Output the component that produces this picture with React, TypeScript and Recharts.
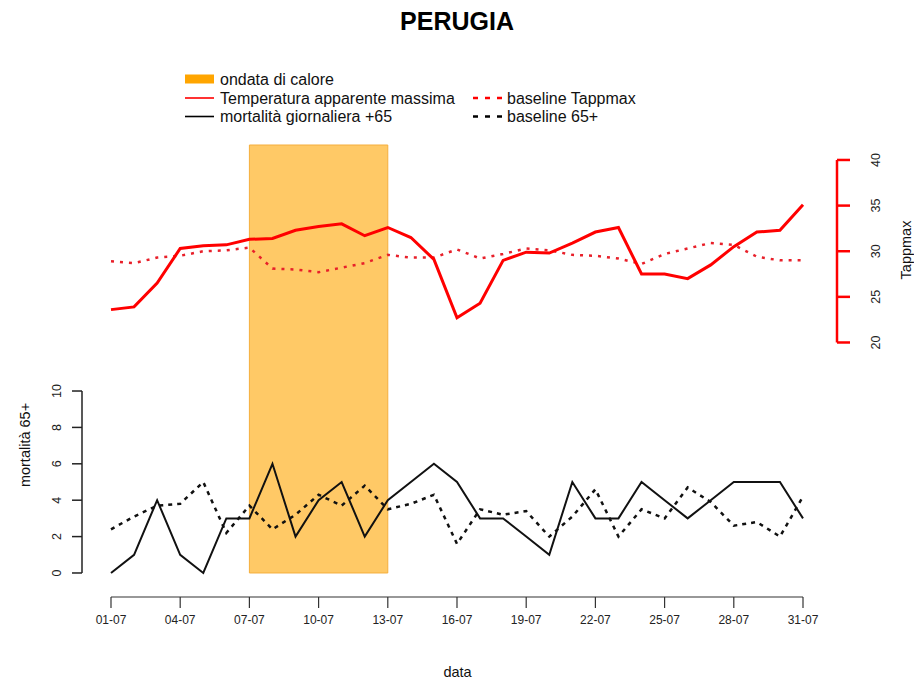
import React from 'react';
import { ComposedChart, Line, XAxis, YAxis, ReferenceArea, ReferenceLine } from 'recharts';

const dates = [
    '01-07', '02-07', '03-07', '04-07', '05-07', '06-07', '07-07', '08-07', '09-07', '10-07',
    '11-07', '12-07', '13-07', '14-07', '15-07', '16-07', '17-07', '18-07', '19-07', '20-07',
    '21-07', '22-07', '23-07', '24-07', '25-07', '26-07', '27-07', '28-07', '29-07', '30-07', '31-07',
];

const tappmax = [
    23.6, 23.9, 26.5, 30.3, 30.6, 30.7, 31.3, 31.4, 32.3, 32.7, 33.0, 31.7, 32.6, 31.5, 29.1, 22.7,
    24.3, 29.0, 29.9, 29.8, 30.9, 32.1, 32.6, 27.5, 27.5, 27.0, 28.5, 30.5, 32.1, 32.3, 35.1,
];

const baselineTapp = [
    28.9, 28.7, 29.3, 29.5, 30.0, 30.1, 30.4, 28.1, 28.0, 27.7, 28.2, 28.7, 29.6, 29.3, 29.3, 30.2,
    29.2, 29.7, 30.3, 30.1, 29.6, 29.5, 29.2, 28.6, 29.7, 30.3, 30.9, 30.7, 29.4, 29.0, 29.0,
];

const mortality = [0, 1, 4, 1, 0, 3, 3, 6, 2, 4, 5, 2, 4, 5, 6, 5, 3, 3, 2, 1, 5, 3, 3, 5, 4, 3, 4, 5, 5, 5, 3];

const baseline65 = [
    2.4, 3.1, 3.7, 3.8, 5.0, 2.2, 3.7, 2.4, 3.2, 4.3, 3.7, 4.8, 3.5, 3.8, 4.3, 1.6,
    3.5, 3.2, 3.4, 2.0, 3.1, 4.6, 2.0, 3.5, 3.0, 4.7, 3.9, 2.6, 2.8, 2.0, 4.2,
];

// ondata di calore: giorni
const heatwave = [7, 13];

const xTicks = [1, 4, 7, 10, 13, 16, 19, 22, 25, 28, 31];
const leftTicks = [0, 2, 4, 6, 8, 10];
const rightTicks = [20, 25, 30, 35, 40];

const data = dates.map((d, i) => ({
    day: i + 1,
    label: d,
    tappmax: tappmax[i],
    baselineTapp: baselineTapp[i],
    mortality: mortality[i],
    baseline65: baseline65[i],
}));

// domains chosen so that the plotted ranges sit where R put them
const X_DOMAIN: [number, number] = [-0.257, 32.474];
const LEFT_DOMAIN: [number, number] = [-1.32, 23.52];
const RIGHT_DOMAIN: [number, number] = [-7.89, 41.64];

const FONT = "'Liberation Sans', Arial, Helvetica, sans-serif";
const RED = '#ff0000';
const ORANGE = '#ffa500';

const XTick = ({ x, y, payload }: any) => (
    <text x={x} y={y + 14} textAnchor="middle" fontSize={12} fontFamily={FONT} fill="#222">
        {dates[payload.value - 1]}
    </text>
);

const LeftTick = ({ x, y, payload }: any) => (
    <text
        x={x - 13}
        y={y}
        transform={`rotate(-90, ${x - 13}, ${y})`}
        textAnchor="middle"
        dominantBaseline="central"
        fontSize={12.5}
        fontFamily={FONT}
        fill="#222"
    >
        {payload.value}
    </text>
);

const RightTick = ({ x, y, payload }: any) => (
    <text
        x={x + 24}
        y={y}
        transform={`rotate(-90, ${x + 24}, ${y})`}
        textAnchor="middle"
        dominantBaseline="central"
        fontSize={12.5}
        fontFamily={FONT}
        fill="#222"
    >
        {payload.value}
    </text>
);

const legendRows = [
    [{ kind: 'box', color: ORANGE, text: 'ondata di calore' }],
    [
        { kind: 'line', color: RED, text: 'Temperatura apparente massima' },
        { kind: 'dash', color: RED, text: 'baseline Tappmax' },
    ],
    [
        { kind: 'line', color: '#000', text: 'mortalità giornaliera +65' },
        { kind: 'dash', color: '#000', text: 'baseline 65+' },
    ],
];

function LegendBox() {
    const rowY = [79, 98, 116.5];
    const colX = [185, 473];
    return (
        <svg width={914} height={140} style={{ position: 'absolute', left: 0, top: 0 }}>
            {legendRows.map((row, r) =>
                row.map((item, c) => {
                    const x0 = colX[c];
                    const y0 = rowY[r];
                    return (
                        <g key={`${r}-${c}`}>
                            {item.kind === 'box' && <rect x={x0} y={y0 - 4.5} width={29} height={9} fill={item.color} />}
                            {item.kind === 'line' && (
                                <line x1={x0} x2={x0 + 29} y1={y0} y2={y0} stroke={item.color} strokeWidth={1.6} />
                            )}
                            {item.kind === 'dash' && (
                                <line
                                    x1={x0}
                                    x2={x0 + 29}
                                    y1={y0}
                                    y2={y0}
                                    stroke={item.color}
                                    strokeWidth={2.5}
                                    strokeDasharray="5 7"
                                />
                            )}
                            <text
                                x={x0 + (c === 0 ? 35 : 34)}
                                y={y0}
                                dominantBaseline="central"
                                fontSize={16}
                                fontFamily={FONT}
                                fill="#111"
                            >
                                {item.text}
                            </text>
                        </g>
                    );
                })
            )}
        </svg>
    );
}

export default function App() {
    return (
        <div style={{ position: 'absolute', left: 0, top: 0, width: 914, height: 682, background: '#fff' }}>
            <div
                style={{
                    position: 'absolute',
                    left: 0,
                    top: 6,
                    width: 914,
                    textAlign: 'center',
                    fontFamily: FONT,
                    fontWeight: 'bold',
                    fontSize: 25,
                    lineHeight: '30px',
                    color: '#000',
                }}
            >
                PERUGIA
            </div>
            <LegendBox />
            <div style={{ position: 'absolute', left: 0, top: 0 }}>
                <ComposedChart width={914} height={682} data={data} margin={{ top: 145, right: 17, bottom: 35, left: 32 }}>
                    <XAxis
                        dataKey="day"
                        type="number"
                        domain={X_DOMAIN}
                        allowDataOverflow
                        ticks={xTicks}
                        interval={0}
                        height={50}
                        axisLine={false}
                        tickSize={11}
                        tickLine={{ stroke: '#333', strokeWidth: 1.2 }}
                        tick={<XTick />}
                        label={({ viewBox }: any) => (
                            <text
                                x={viewBox.x + viewBox.width / 2 - 2}
                                y={677}
                                textAnchor="middle"
                                fontSize={14.5}
                                fontFamily={FONT}
                                fill="#111"
                            >
                                data
                            </text>
                        )}
                    />
                    <YAxis
                        yAxisId="left"
                        type="number"
                        domain={LEFT_DOMAIN}
                        allowDataOverflow
                        ticks={leftTicks}
                        interval={0}
                        width={50}
                        axisLine={false}
                        tickSize={10}
                        tickLine={{ stroke: '#222', strokeWidth: 1.5 }}
                        tick={<LeftTick />}
                        label={() => (
                            <text
                                x={25}
                                y={445}
                                transform="rotate(-90, 25, 445)"
                                textAnchor="middle"
                                dominantBaseline="central"
                                fontSize={14.5}
                                fontFamily={FONT}
                                fill="#111"
                            >
                                mortalità 65+
                            </text>
                        )}
                    />
                    <YAxis
                        yAxisId="right"
                        orientation="right"
                        type="number"
                        domain={RIGHT_DOMAIN}
                        allowDataOverflow
                        ticks={rightTicks}
                        interval={0}
                        width={60}
                        axisLine={false}
                        tickSize={13}
                        tickLine={{ stroke: RED, strokeWidth: 2.5 }}
                        tick={<RightTick />}
                        label={() => (
                            <text
                                x={906}
                                y={250}
                                transform="rotate(-90, 906, 250)"
                                textAnchor="middle"
                                dominantBaseline="central"
                                fontSize={14.5}
                                fontFamily={FONT}
                                fill="#111"
                            >
                                Tappmax
                            </text>
                        )}
                    />
                    <ReferenceArea
                        yAxisId="left"
                        x1={heatwave[0]}
                        x2={heatwave[1]}
                        y1={0}
                        y2={LEFT_DOMAIN[1]}
                        fill={ORANGE}
                        fillOpacity={0.6}
                        stroke="#f5ae3c"
                        strokeWidth={1}
                        ifOverflow="visible"
                    />
                    <ReferenceLine
                        yAxisId="left"
                        segment={[{ x: X_DOMAIN[0], y: 0 }, { x: X_DOMAIN[0], y: 10 }]}
                        stroke="#222"
                        strokeWidth={1.5}
                        ifOverflow="visible"
                    />
                    <ReferenceLine
                        yAxisId="left"
                        segment={[{ x: xTicks[0], y: LEFT_DOMAIN[0] }, { x: xTicks[xTicks.length - 1], y: LEFT_DOMAIN[0] }]}
                        stroke="#333"
                        strokeWidth={1.2}
                        ifOverflow="visible"
                    />
                    <ReferenceLine
                        yAxisId="right"
                        segment={[{ x: X_DOMAIN[1], y: 20 }, { x: X_DOMAIN[1], y: 40 }]}
                        stroke={RED}
                        strokeWidth={2.5}
                        ifOverflow="visible"
                    />
                    <Line
                        yAxisId="right"
                        type="linear"
                        dataKey="baselineTapp"
                        stroke="#e8202a"
                        strokeWidth={2.5}
                        strokeDasharray="3 6"
                        dot={false}
                        isAnimationActive={false}
                    />
                    <Line
                        yAxisId="right"
                        type="linear"
                        dataKey="tappmax"
                        stroke={RED}
                        strokeWidth={3}
                        dot={false}
                        isAnimationActive={false}
                    />
                    <Line
                        yAxisId="left"
                        type="linear"
                        dataKey="baseline65"
                        stroke="#111"
                        strokeWidth={2.5}
                        strokeDasharray="4 5"
                        dot={false}
                        isAnimationActive={false}
                    />
                    <Line
                        yAxisId="left"
                        type="linear"
                        dataKey="mortality"
                        stroke="#111"
                        strokeWidth={2}
                        dot={false}
                        isAnimationActive={false}
                    />
                </ComposedChart>
            </div>
        </div>
    );
}
